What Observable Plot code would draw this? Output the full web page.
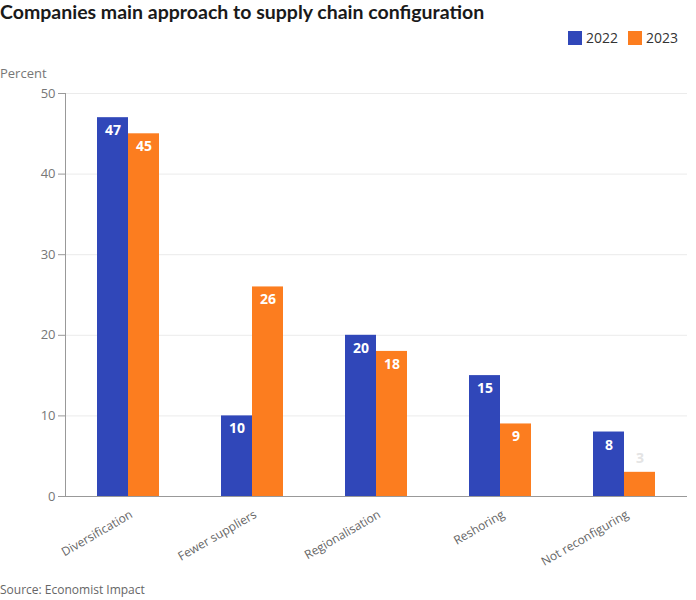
<!DOCTYPE html>
<html>
<head>
<meta charset="utf-8">
<script src="https://cdn.jsdelivr.net/npm/d3@7"></script>
<script src="https://cdn.jsdelivr.net/npm/@observablehq/plot@0.6"></script>
<style>
  html, body { margin: 0; padding: 0; background: #fff; }
  #wrap { position: relative; width: 696px; height: 600px; font-family: "Open Sans", sans-serif; overflow: hidden; }
  #title { position: absolute; left: 0; top: 0; font-family: Lato, sans-serif; font-weight: 700; font-size: 19.5px; color: #1a1a1a; line-height: 24px; white-space: nowrap; }
  #legend { position: absolute; right: 18px; top: 28px; display: flex; align-items: center; font-size: 14px; color: #333; }
  #legend .item { display: flex; align-items: center; margin-left: 10px; }
  #legend .sw { width: 14px; height: 14px; margin-right: 4px; }
  #unit { position: absolute; left: 0; top: 64px; font-size: 13px; color: #777; }
  #chart { position: absolute; left: 0; top: 60px; width: 696px; height: 515px; }
  #chart svg { position: absolute; left: 0; top: 0; }
  #source { position: absolute; left: 0; top: 581px; font-size: 12px; color: #666; }
</style>
</head>
<body>
<div id="wrap">
  <div id="title"></div>
  <div id="legend"></div>
  <div id="unit"></div>
  <div id="chart"></div>
  <div id="source"></div>
</div>
<script>
const titleText = "Companies main approach to supply chain configuration";
const unitText = "Percent";
const sourceText = "Source: Economist Impact";
const categories = ["Diversification", "Fewer suppliers", "Regionalisation", "Reshoring", "Not reconfiguring"];
const years = ["2022", "2023"];
const values2022 = [47, 10, 20, 15, 8];
const values2023 = [45, 26, 18, 9, 3];
const colors = ["#3047b9", "#fc7d1f"];
const yTicks = [0, 10, 20, 30, 40, 50];

const data = categories.flatMap((c, i) => [
  {category: c, year: years[0], value: values2022[i]},
  {category: c, year: years[1], value: values2023[i]}
]);

document.getElementById("title").textContent = titleText;
document.getElementById("unit").textContent = unitText;
document.getElementById("source").textContent = sourceText;
const legend = document.getElementById("legend");
years.forEach((y, i) => {
  const it = document.createElement("div");
  it.className = "item";
  const sw = document.createElement("div");
  sw.className = "sw";
  sw.style.background = colors[i];
  const t = document.createElement("span");
  t.textContent = y;
  it.appendChild(sw); it.appendChild(t);
  legend.appendChild(it);
});

const dims = {width: 696, height: 515, marginLeft: 65, marginRight: 9, marginTop: 33, marginBottom: 79};

// Background: grid, y axis, axis lines
const bg = Plot.plot({
  ...dims,
  style: {fontFamily: "Open Sans, sans-serif", fontSize: "13px", background: "transparent"},
  x: {type: "linear", domain: [0, 1], axis: null},
  y: {domain: [0, 50], ticks: yTicks, label: null, axis: null},
  marks: [
    Plot.gridY(yTicks, {stroke: "#ebebeb", strokeOpacity: 1}),
    Plot.axisY(yTicks, {tickSize: 7, tickPadding: 3, stroke: "#999", fill: "#777", fontSize: 13, label: null}),
    Plot.ruleX([0], {stroke: "#999"}),
    Plot.ruleY([0], {stroke: "#999"})
  ]
});

// Foreground: grouped bars
const fg = Plot.plot({
  ...dims,
  style: {fontFamily: "Open Sans, sans-serif", fontSize: "13px", background: "transparent"},
  fx: {domain: categories, paddingInner: 0.5, paddingOuter: 0.25, label: null, axis: null},
  x: {domain: years, padding: 0, axis: null},
  y: {domain: [0, 50], axis: null},
  color: {domain: years, range: colors},
  marks: [
    Plot.barY(data, {fx: "category", x: "year", y: "value", fill: "year"}),
    Plot.ruleY([0], {stroke: "#999"}),
    Plot.text(data.filter(d => d.value >= 5), {fx: "category", x: "year", y: "value", text: d => String(d.value), dy: 13, fill: "#fff", fontWeight: 700, fontSize: 14}),
    Plot.text(data.filter(d => d.value < 5), {fx: "category", x: "year", y: "value", text: d => String(d.value), dy: -14, fill: "#e4e4e4", fontWeight: 700, fontSize: 14}),
    Plot.axisFx({anchor: "bottom", tickRotate: -30, tickSize: 0, tickPadding: 17, dx: 3, fill: "#666", fontSize: 12, label: null})
  ]
});

const chart = document.getElementById("chart");
chart.appendChild(bg);
chart.appendChild(fg);
</script>
</body>
</html>
